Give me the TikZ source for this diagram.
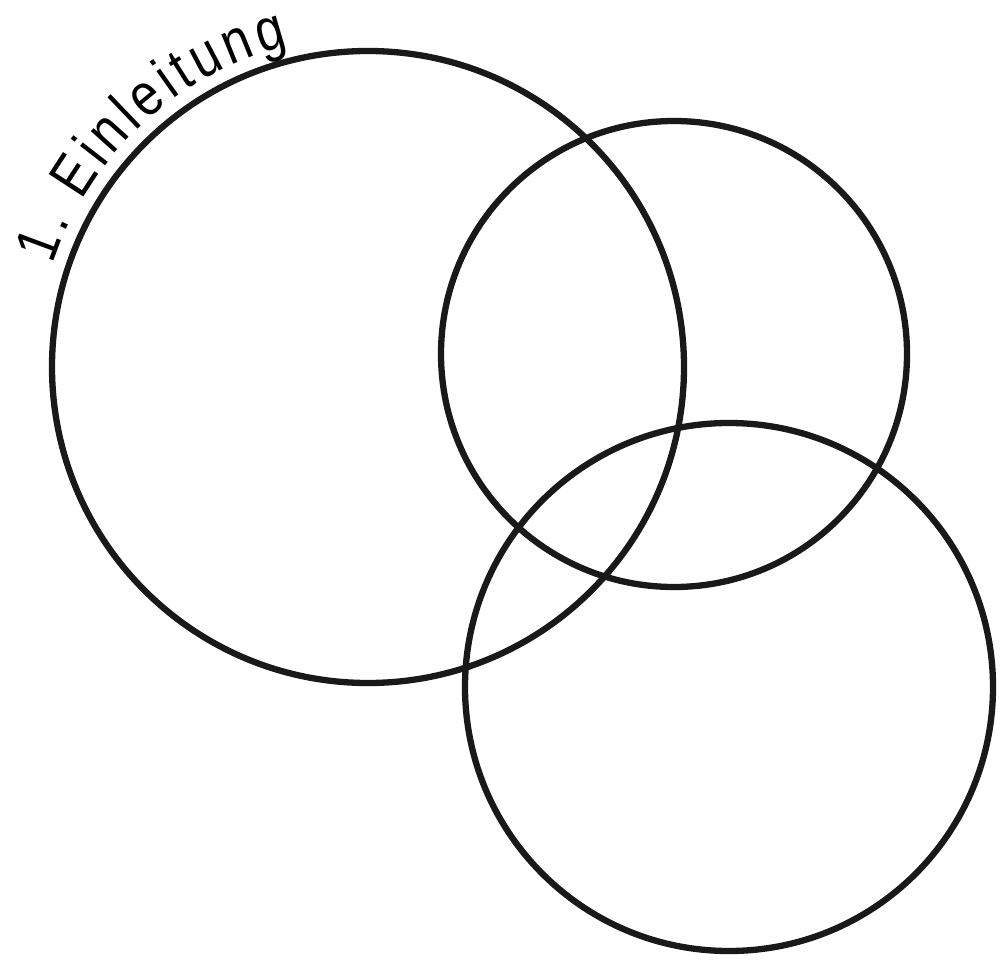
\documentclass[tikz,border=0pt]{standalone}
\usepackage{fontspec}
\setmainfont{Liberation Sans}
\newfontfamily\narrowfont[FakeStretch=0.84]{Liberation Sans}
\usetikzlibrary{calc,decorations.text}

\tikzset{
  ring/.style={draw=black!90,line width=6.3pt},
  arclabel/.style={decorate,decoration={text along path,
      text align=fit to path,
      text format delimiters={|}{|}}}
}

\begin{document}
\begin{tikzpicture}[x=1pt,y=-1pt]
  \useasboundingbox (0,0) rectangle (1001,968);

  % the three rings
  \coordinate (c1) at (368,367);
  \coordinate (c2) at (674,354);
  \coordinate (c3) at (729,687);
  \draw[ring] (c1) circle[radius=316];
  \draw[ring] (c2) circle[radius=233];
  \draw[ring] (c3) circle[radius=264];

  % title along the first ring
  \path[arclabel,decoration={text={|\narrowfont\fontsize{60}{60}\selectfont|1. Einleitung}}]
    ($(c1)+(198:331)$) arc[start angle=198,end angle=256,radius=331];
\end{tikzpicture}
\end{document}
